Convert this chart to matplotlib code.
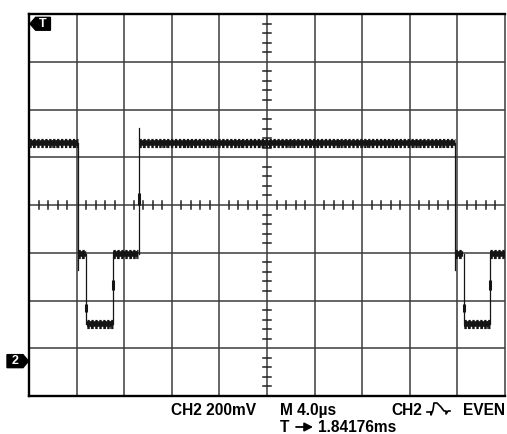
import matplotlib
matplotlib.use("Agg")
import matplotlib.pyplot as plt
import numpy as np
from matplotlib.patches import Polygon, FancyArrowPatch

# ---- data (screen divisions: x 0..10, y 0..8 from bottom) ----
level_high = 5.30
level_mid = 2.98
level_low = 1.51

# noisy plateaus: (start, end, level)
plateau_start = [0.00, 1.03, 1.21, 1.76, 2.32, 8.95, 9.13, 9.68]
plateau_end   = [1.03, 1.19, 1.76, 2.30, 8.95, 9.12, 9.68, 10.0]
plateau_level = [level_high, level_mid, level_low, level_mid,
                 level_high, level_mid, level_low, level_mid]

# edges: (x, y_from, y_to)
edge_x    = [1.03, 1.20, 1.76, 2.31, 8.95, 9.13, 9.68]
edge_from = [5.30, 2.98, 1.51, 2.98, 5.30, 2.98, 1.51]
edge_to   = [2.64, 1.51, 2.98, 5.62, 2.64, 1.51, 2.98]

# denser parts on edges: (x, y0, y1)
mark_x  = [1.20, 1.76, 2.31, 9.13, 9.68]
mark_y0 = [1.76, 2.22, 4.00, 1.76, 2.22]
mark_y1 = [1.92, 2.43, 4.25, 1.92, 2.43]

ch2_ground = 0.73
labels_line1 = ["CH2 200mV", "M 4.0\u00b5s", "CH2", "EVEN"]
label_line2_a = "T"
label_line2_b = "1.84176ms"

W, H = 507, 434
fig = plt.figure(figsize=(W / 100, H / 100), dpi=100)
fig.patch.set_facecolor("white")

x0, x1, y0, y1 = 29, 505, 14, 396
ax = fig.add_axes([x0 / W, 1 - y1 / H, (x1 - x0) / W, (y1 - y0) / H])
ax.set_xlim(0, 10)
ax.set_ylim(0, 8)
ax.set_xticks([])
ax.set_yticks([])

grid_col = "#3c3c3c"
for i in range(1, 10):
    ax.axvline(i, color=grid_col, lw=1.1, zorder=1)
for j in range(1, 8):
    ax.axhline(j, color=grid_col, lw=1.1, zorder=1)

# minor ticks on centre lines
tl = 0.075
for t in np.arange(0, 10.001, 0.2):
    if abs(t - round(t)) > 1e-6:
        ax.plot([t, t], [4 - tl, 4 + tl], color="#222222", lw=1.1, zorder=1)
for t in np.arange(0, 8.001, 0.2):
    if abs(t - round(t)) > 1e-6:
        ax.plot([5 - tl, 5 + tl], [t, t], color="#222222", lw=1.1, zorder=1)

for s in ["left", "top", "bottom"]:
    ax.spines[s].set_linewidth(1.7)
    ax.spines[s].set_color("black")
ax.spines["right"].set_linewidth(1.1)
ax.spines["right"].set_color(grid_col)

# trace
tc = "#151515"
for a, b, lev in zip(plateau_start, plateau_end, plateau_level):
    ax.plot([a, b], [lev, lev], color=tc, lw=4.0, solid_capstyle="butt", zorder=3)
    ax.plot([a, b], [lev, lev], color=tc, lw=6.6, linestyle=(0, (0.25, 0.18)),
            dash_capstyle="butt", zorder=3)
    ax.plot([a, b], [lev - 0.02, lev - 0.02], color=tc, lw=5.6, linestyle=(0.1, (0.15, 0.45)),
            dash_capstyle="butt", zorder=3)
for x, ya, yb in zip(edge_x, edge_from, edge_to):
    ax.plot([x, x], [ya, yb], color=tc, lw=0.9, zorder=3)
for x, ya, yb in zip(mark_x, mark_y0, mark_y1):
    ax.plot([x, x], [ya, yb], color=tc, lw=2.2, solid_capstyle="butt", zorder=3)

fam = ["Liberation Sans", "DejaVu Sans"]

# T trigger badge (top-left)
ax.add_patch(Polygon([[0.02, 7.795], [0.14, 7.93], [0.45, 7.93], [0.45, 7.66], [0.14, 7.66]],
                     closed=True, color="black", zorder=5))
ax.text(0.29, 7.79, "T", color="white", fontsize=9, fontweight="bold",
        ha="center", va="center", family=fam, zorder=6)


def fx(px):
    return px / W


def fy(py):
    return 1 - py / H


# CH2 ground marker (outside left)
gy = y1 - ch2_ground * (y1 - y0) / 8
fig.patches.append(Polygon([[fx(7), fy(gy - 6.5)], [fx(23), fy(gy - 6.5)], [fx(28.5), fy(gy)],
                            [fx(23), fy(gy + 6.5)], [fx(7), fy(gy + 6.5)]],
                           closed=True, color="black", transform=fig.transFigure, figure=fig))
fig.text(fx(15.5), fy(gy), "2", color="white", fontsize=9, fontweight="bold",
         ha="center", va="center", family=fam)

# bottom readouts
fs = 11.2
base1 = 415
fig.text(fx(171), fy(base1), labels_line1[0], fontsize=fs, fontweight="bold",
         ha="left", va="baseline", family=fam)
fig.text(fx(280), fy(base1), labels_line1[1], fontsize=fs, fontweight="bold",
         ha="left", va="baseline", family=fam)
fig.text(fx(391), fy(base1), labels_line1[2], fontsize=fs, fontweight="bold",
         ha="left", va="baseline", family=fam)
fig.text(fx(505), fy(base1), labels_line1[3], fontsize=fs, fontweight="bold",
         ha="right", va="baseline", family=fam)
fig.text(fx(280), fy(432), label_line2_a, fontsize=fs, fontweight="bold",
         ha="left", va="baseline", family=fam)
fig.text(fx(318), fy(432), label_line2_b, fontsize=fs, fontweight="bold",
         ha="left", va="baseline", family=fam)
arr = FancyArrowPatch((fx(296), fy(427)), (fx(313), fy(427)), transform=fig.transFigure,
                      arrowstyle="-|>,head_length=5,head_width=2.6", color="black",
                      lw=1.3, mutation_scale=1, shrinkA=0, shrinkB=0, figure=fig)
fig.patches.append(arr)

# trigger glyph: _/^\_ shape
gx = [427, 431, 431, 433, 434, 437, 441, 444, 446, 446, 448, 450]
gyv = [412, 412, 415, 410, 403, 403, 407, 411, 411, 414, 411, 411]
fig.lines.append(plt.Line2D([fx(v) for v in gx], [fy(v) for v in gyv], color="black",
                            lw=1.2, transform=fig.transFigure, figure=fig))

fig.savefig("out.png", dpi=100, facecolor="white")
